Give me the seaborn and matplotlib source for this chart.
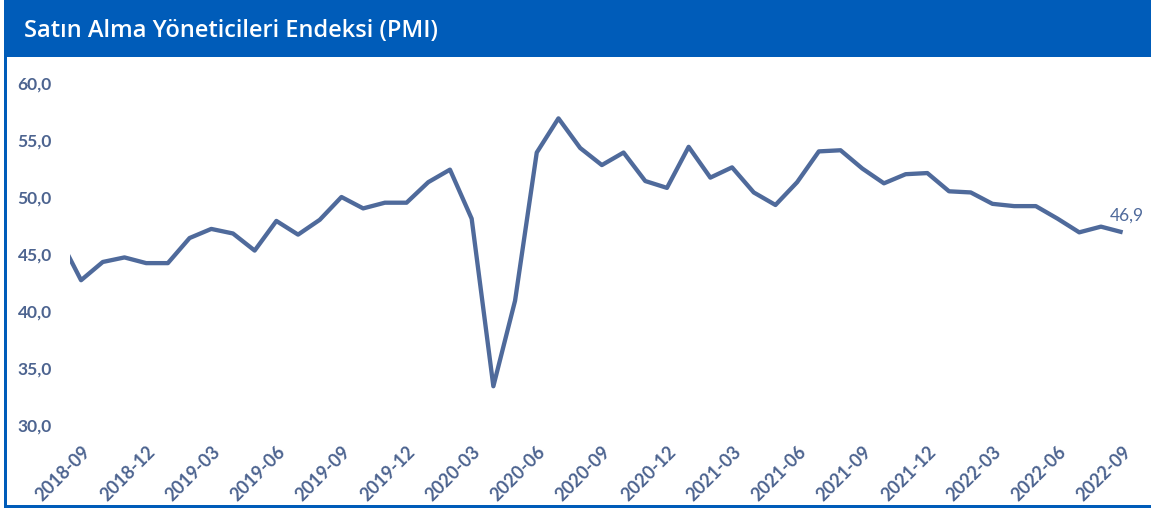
import matplotlib
matplotlib.use("Agg")
import matplotlib.pyplot as plt
import seaborn as sns
import pandas as pd
from matplotlib.patches import Rectangle

# ==========================================
# Data
# ==========================================
months = [
    "2018-08", "2018-09", "2018-10", "2018-11", "2018-12",
    "2019-01", "2019-02", "2019-03", "2019-04", "2019-05", "2019-06",
    "2019-07", "2019-08", "2019-09", "2019-10", "2019-11", "2019-12",
    "2020-01", "2020-02", "2020-03", "2020-04", "2020-05", "2020-06",
    "2020-07", "2020-08", "2020-09", "2020-10", "2020-11", "2020-12",
    "2021-01", "2021-02", "2021-03", "2021-04", "2021-05", "2021-06",
    "2021-07", "2021-08", "2021-09", "2021-10", "2021-11", "2021-12",
    "2022-01", "2022-02", "2022-03", "2022-04", "2022-05", "2022-06",
    "2022-07", "2022-08", "2022-09",
]
pmi = [
    46.4, 42.7, 44.3, 44.7, 44.2,
    44.2, 46.4, 47.2, 46.8, 45.3, 47.9,
    46.7, 48.0, 50.0, 49.0, 49.5, 49.5,
    51.3, 52.4, 48.1, 33.4, 40.9, 53.9,
    56.9, 54.3, 52.8, 53.9, 51.4, 50.8,
    54.4, 51.7, 52.6, 50.4, 49.3, 51.3,
    54.0, 54.1, 52.5, 51.2, 52.0, 52.1,
    50.5, 50.4, 49.4, 49.2, 49.2, 48.1,
    46.9, 47.4, 46.9,
]
yticks = [30, 35, 40, 45, 50, 55, 60]
title_text = "Satın Alma Yöneticileri Endeksi (PMI)"

df = pd.DataFrame({"month": months, "pmi": pmi})
df["idx"] = range(len(df))

# ==========================================
# Style
# ==========================================
sns.set_theme(style="white")
plt.rcParams["font.family"] = ["Lato", "DejaVu Sans"]

LINE = "#4f6a9b"
TICK = "#4d6490"
BAR = "#005cb9"

W, H = 1151, 508
fig = plt.figure(figsize=(W / 100, H / 100), dpi=100)
fig.patch.set_facecolor("white")

# header bar + frame
fig.patches.append(Rectangle((4 / W, 1 - 57 / H), 1, 57 / H, transform=fig.transFigure,
                             facecolor=BAR, edgecolor="none", zorder=0))
fig.patches.append(Rectangle((4 / W, 0), 3.5 / W, 1 - 57 / H, transform=fig.transFigure,
                             facecolor=BAR, edgecolor="none", zorder=0))
fig.patches.append(Rectangle((4 / W, 0), 1, 3.5 / H, transform=fig.transFigure,
                             facecolor=BAR, edgecolor="none", zorder=0))
fig.text(24 / W, 1 - 31 / H, title_text, color="white", fontsize=17,
         fontweight="semibold", family=["Open Sans", "DejaVu Sans"],
         ha="left", va="center")

# plot area
ax = fig.add_axes([70 / W, 83 / H, (1140 - 70) / W, (425 - 83) / H])
sns.lineplot(data=df, x="idx", y="pmi", color=LINE, linewidth=3.1, ax=ax,
             solid_capstyle="butt")

ax.set_xlim(0.49, 49.8)
ax.set_ylim(30, 60)
ax.set_yticks(yticks)
ax.set_yticklabels([f"{v:.1f}".replace(".", ",") for v in yticks])
tick_pos = list(range(1, len(months), 3))
ax.set_xticks(tick_pos)
ax.set_xticklabels([months[i] for i in tick_pos], rotation=45, ha="right",
                   rotation_mode="anchor")
ax.tick_params(axis="y", length=0, pad=13, labelsize=12.5, labelcolor=TICK)
ax.tick_params(axis="x", length=0, pad=13, labelsize=13, labelcolor=TICK)
for lab in ax.get_xticklabels() + ax.get_yticklabels():
    lab.set_fontweight("bold")
ax.set_xlabel("")
ax.set_ylabel("")
for s in ax.spines.values():
    s.set_visible(False)
ax.grid(False)

# last value label
last = df.iloc[-1]
ax.annotate(f"{last['pmi']:.1f}".replace(".", ","), (last["idx"], last["pmi"]),
            xytext=(3, 6), textcoords="offset points", ha="center", va="bottom",
            color=LINE, fontsize=12.5, annotation_clip=False)

fig.savefig("out.png", dpi=100)
